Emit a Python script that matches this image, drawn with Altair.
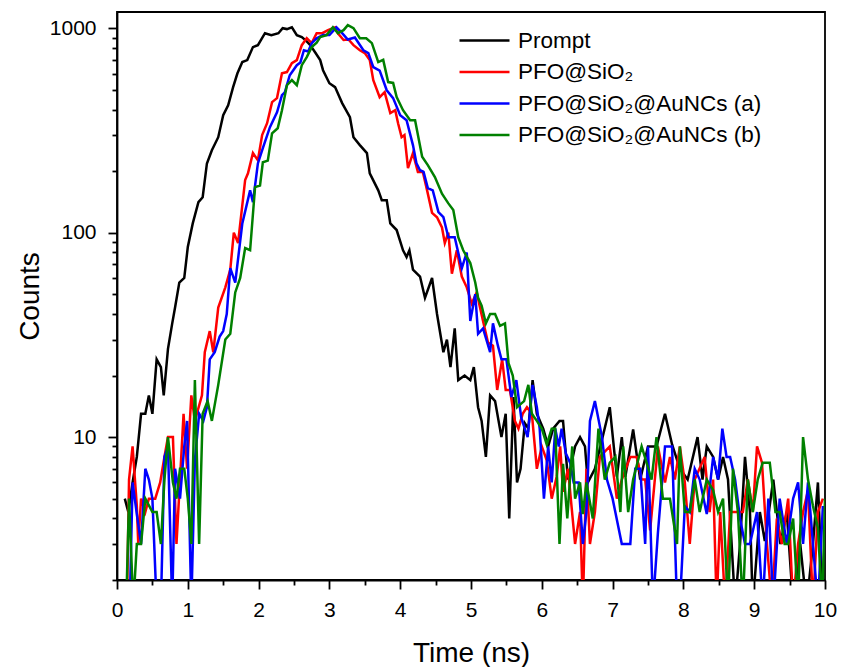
import altair as alt
import pandas as pd

# (time in ns, counts)
PROMPT = [(0.11,5),(0.16,4.3),(0.22,6),(0.28,8),(0.34,13),(0.40,13),(0.45,16),(0.50,13),(0.56,24),(0.62,22),
          (0.66,16),(0.72,27),(0.78,36),(0.82,43),(0.88,57),(0.95,60),(1.00,85),(1.07,111),(1.15,141),(1.21,149),
          (1.27,218),(1.34,253),(1.43,293),(1.50,375),(1.57,420),(1.64,515),(1.70,600),(1.77,683),(1.84,698),(1.92,808),
          (1.99,826),(2.09,945),(2.18,925),(2.28,945),(2.34,1000),(2.40,990),(2.47,1010),(2.54,925),(2.61,905),(2.67,870),
          (2.73,826),(2.80,760),(2.87,698),(2.91,623),(3.00,538),(3.08,515),(3.18,430),(3.29,367),(3.34,293),(3.43,268),
          (3.53,245),(3.57,195),(3.69,161),(3.74,144),(3.81,144),(3.86,111),(3.95,103),(4.04,82),(4.09,76),(4.13,82),
          (4.18,66),(4.28,61),(4.35,48),(4.45,60),(4.52,40),(4.61,26),(4.66,30),(4.71,22),(4.77,34),(4.82,19),
          (4.91,20),(4.99,19),(5.04,22),(5.10,14),(5.15,12),(5.21,8),(5.27,16),(5.34,15),(5.43,10),(5.49,13),
          (5.54,4),(5.60,15.7),(5.65,6),(5.70,7),(5.76,11.7),(5.81,11),(5.87,19),(5.93,13),(6.02,11),(6.09,9),
          (6.16,11),(6.25,12),(6.30,12),(6.37,6.2),(6.47,9),(6.54,10),(6.61,9),(6.65,6),(6.75,7),(6.85,9.7),
          (6.96,14),(7.06,6.4),(7.13,10),(7.18,6.4),(7.29,10.9),(7.39,6.2),(7.50,9),(7.62,9),(7.74,13),(7.84,9.2),
          (7.95,7),(8.06,6.2),(8.20,10),(8.27,6.2),(8.33,9),(8.42,8),(8.49,6.2),(8.56,8),(8.63,6.2),(8.73,1.5),
          (8.80,3),(8.87,8),(8.94,4.3),(8.98,1.5),(9.08,4.3),(9.15,3.1),(9.27,6.2),(9.37,3),(9.46,4.3),(9.55,1.5),
          (9.65,3),(9.74,1.5),(9.83,3),(9.90,6),(9.97,1.5)]

PFO_SIO2 = [(0.14,1.5),(0.17,6.2),(0.22,9),(0.28,4.6),(0.30,3),(0.34,5),(0.40,4.3),(0.45,5),(0.54,5),(0.61,6),
            (0.67,8),(0.72,10),(0.79,10),(0.84,3),(0.89,6.2),(0.94,13),(0.99,7),(1.05,16),(1.10,12),(1.20,16),
            (1.24,26),(1.31,33),(1.36,26),(1.43,43),(1.53,54),(1.60,66),(1.65,100),(1.71,89),(1.81,181),(1.85,195),
            (1.92,245),(1.99,226),(2.05,300),(2.12,343),(2.19,435),(2.26,455),(2.33,602),(2.40,610),(2.47,674),(2.54,698),
            (2.61,826),(2.68,893),(2.75,845),(2.82,945),(2.90,945),(2.98,978),(3.08,1010),(3.12,945),(3.20,875),(3.27,880),
            (3.34,826),(3.43,780),(3.50,755),(3.57,698),(3.62,557),(3.71,460),(3.78,487),(3.86,384),(3.93,397),(3.97,343),
            (4.02,293),(4.06,300),(4.11,207),(4.18,245),(4.25,198),(4.32,198),(4.38,161),(4.45,125),(4.52,119),(4.59,106),
            (4.63,89),(4.68,100),(4.73,63),(4.80,82),(4.87,61),(4.94,54),(5.01,45),(5.08,51),(5.17,37),(5.24,29),
            (5.31,28),(5.37,17),(5.44,24),(5.49,17),(5.55,17),(5.62,12),(5.67,11),(5.73,13),(5.79,14),(5.86,13),
            (5.93,7),(6.00,9),(6.07,7.7),(6.14,5),(6.21,6.4),(6.26,9),(6.30,5.4),(6.37,7),(6.47,3),(6.54,4.3),
            (6.58,1.5),(6.63,7),(6.68,3),(6.75,4.3),(6.82,8),(6.96,9),(7.06,5),(7.13,6.2),(7.25,8),(7.34,8),
            (7.41,6.2),(7.46,6.2),(7.53,3.5),(7.64,9),(7.74,6),(7.81,8),(7.88,6.2),(7.95,9),(8.02,6),(8.09,3),
            (8.16,6.2),(8.30,8),(8.37,4.3),(8.42,6.2),(8.47,1.5),(8.52,4.3),(8.59,1.5),(8.66,4.3),(8.75,4.3),(8.84,4.3),
            (8.91,6.2),(8.98,4.3),(9.04,9),(9.11,7.5),(9.18,3),(9.25,1.5),(9.32,4),(9.39,3),(9.48,5),(9.55,1.5),
            (9.62,3),(9.69,4.3),(9.76,5.5),(9.83,1.5),(9.90,4.3),(9.97,5)]

AUNCS_A = [(0.18,1.5),(0.22,6),(0.28,4.2),(0.34,3),(0.40,7),(0.45,6.2),(0.50,5),(0.56,1.5),(0.62,1.5),(0.67,8),
           (0.72,9),(0.78,1.5),(0.82,7),(0.89,5),(0.95,9),(0.99,12),(1.05,1.5),(1.10,7.7),(1.16,13),(1.22,12),
           (1.27,14),(1.31,24),(1.38,26),(1.45,31),(1.50,33),(1.55,40),(1.60,67),(1.67,57),(1.77,111),(1.88,161),
           (1.92,141),(1.99,218),(2.06,259),(2.16,328),(2.26,388),(2.33,470),(2.37,485),(2.44,589),(2.54,659),(2.59,680),
           (2.64,780),(2.70,770),(2.75,845),(2.82,893),(2.91,925),(3.00,925),(3.10,1010),(3.18,945),(3.26,880),(3.36,900),
           (3.48,780),(3.55,755),(3.62,645),(3.71,620),(3.81,497),(3.90,455),(4.00,375),(4.09,355),(4.18,268),(4.23,218),
           (4.28,202),(4.33,198),(4.39,165),(4.46,161),(4.54,126),(4.61,119),(4.68,95),(4.77,95),(4.87,67),(4.94,80),
           (4.99,37),(5.06,50),(5.10,32),(5.17,34),(5.27,26),(5.31,36),(5.38,28),(5.43,24),(5.50,24),(5.57,15.7),
           (5.64,19),(5.71,12.4),(5.80,10),(5.87,18),(5.93,14),(5.97,11),(6.03,5),(6.09,9),(6.14,6),(6.19,11),
           (6.24,9),(6.28,11),(6.34,8.3),(6.40,7.5),(6.45,6),(6.52,6),(6.58,3),(6.63,4.3),(6.68,12),(6.75,15),
           (6.85,10),(6.92,6.2),(7.00,5),(7.13,3),(7.25,3),(7.32,7),(7.39,7),(7.46,3),(7.50,9),(7.57,1.5),
           (7.64,3.4),(7.74,9),(7.84,9),(7.91,1.5),(7.95,1.5),(8.02,4.6),(8.09,4.3),(8.16,7),(8.23,6.2),(8.33,4.2),
           (8.42,8),(8.49,6.2),(8.55,11),(8.61,8),(8.66,8),(8.73,6.2),(8.80,4),(8.87,3),(8.94,3),(9.04,4.3),
           (9.12,1.5),(9.20,5),(9.27,1.5),(9.36,5),(9.46,3),(9.55,5),(9.62,6),(9.69,3),(9.76,6),(9.83,3),
           (9.90,1.5),(9.97,4.6)]

AUNCS_B = [(0.13,1.5),(0.17,5),(0.23,1.5),(0.28,3),(0.34,3),(0.40,5),(0.50,4.3),(0.56,4.3),(0.62,3),(0.67,6.2),
           (0.72,10),(0.79,6),(0.84,5),(0.89,7),(0.95,7),(1.00,5),(1.05,3),(1.10,19),(1.16,3),(1.21,13),
           (1.28,15),(1.34,12),(1.43,18),(1.53,30),(1.60,32),(1.67,51),(1.74,60),(1.81,84),(1.88,82),(1.95,167),
           (2.02,170),(2.06,221),(2.13,225),(2.19,306),(2.27,324),(2.33,397),(2.40,526),(2.47,557),(2.54,526),(2.61,659),
           (2.68,722),(2.75,808),(2.82,850),(2.87,905),(2.96,925),(3.05,1010),(3.12,945),(3.20,978),(3.26,1035),(3.34,1000),
           (3.43,893),(3.52,893),(3.60,845),(3.69,683),(3.76,700),(3.83,545),(3.90,540),(3.95,460),(4.04,397),(4.14,355),
           (4.21,355),(4.31,235),(4.39,214),(4.49,187),(4.59,155),(4.68,139),(4.75,129),(4.82,95),(4.89,82),(4.99,71),
           (5.06,57),(5.10,48),(5.15,44),(5.21,36),(5.27,40),(5.34,40),(5.41,35),(5.48,36),(5.53,23),(5.59,20),
           (5.65,14),(5.70,14.5),(5.75,15),(5.81,18),(5.86,13),(5.93,12),(6.00,11),(6.07,9.2),(6.14,11),(6.19,11),
           (6.25,3),(6.30,7.4),(6.36,4),(6.43,9),(6.47,5),(6.54,6),(6.58,4.2),(6.63,6),(6.72,4),(6.80,11),
           (6.89,6.2),(6.96,7.5),(7.04,8),(7.11,4.3),(7.15,9),(7.22,4.3),(7.29,6.2),(7.41,9),(7.48,7.5),(7.55,6.2),
           (7.62,10),(7.71,5),(7.81,5),(7.91,3),(7.95,9),(8.02,4.3),(8.09,4.3),(8.16,6.2),(8.23,4.3),(8.33,6.2),
           (8.42,5.5),(8.49,4.3),(8.56,5),(8.63,1.5),(8.70,7),(8.77,4.3),(8.84,1.5),(8.91,6.2),(8.98,4.3),(9.05,6.2),
           (9.12,7.5),(9.22,7.5),(9.30,4.3),(9.36,4.3),(9.43,3),(9.48,3),(9.55,4),(9.62,1.5),(9.69,10),(9.76,6.2),
           (9.83,4.6),(9.90,3.6),(9.96,1.5),(10.0,5)]

SERIES = ["Prompt", "PFO@SiO₂", "PFO@SiO₂@AuNCs (a)", "PFO@SiO₂@AuNCs (b)"]
COLORS = ["#000000", "#ff0000", "#0000ff", "#008000"]
X_TICKS = [i * 0.5 for i in range(21)]
Y_TICKS = [2, 3, 4, 5, 6, 7, 8, 9, 10, 20, 30, 40, 50, 60, 70, 80, 90,
           100, 200, 300, 400, 500, 600, 700, 800, 900, 1000]

rows = []
for name, pts in zip(SERIES, [PROMPT, PFO_SIO2, AUNCS_A, AUNCS_B]):
    for t, c in pts:
        rows.append({"series": name, "t": t, "counts": c})
df = pd.DataFrame(rows)

FONT = "Liberation Sans"

x_axis = alt.Axis(
    values=X_TICKS, title="Time (ns)", grid=False,
    labelExpr="datum.value % 1 == 0 ? format(datum.value, 'd') : ''",
    tickSize={"condition": {"test": "datum.value % 1 == 0", "value": 9}, "value": 5},
    labelFontSize=21, labelPadding=10, labelFlush=False, labelOverlap=False,
    titleFontSize=28, titleFontWeight="normal", titleX=354, titleY=81,
    titleBaseline="alphabetic", titleAlign="center",
)
y_axis = alt.Axis(
    values=Y_TICKS, title="Counts", grid=False,
    labelExpr="(datum.value == 10 || datum.value == 100 || datum.value == 1000) ? format(datum.value, 'd') : ''",
    tickSize={"condition": {"test": "datum.value == 10 || datum.value == 100 || datum.value == 1000", "value": 9}, "value": 5},
    labelFontSize=21, labelPadding=12, labelFlush=False, labelOverlap=False,
    titleFontSize=28, titleFontWeight="normal", titleX=-79, titleY=284,
    titleBaseline="alphabetic", titleAlign="center", titleAngle=270,
)

chart = alt.Chart(df).mark_line(strokeWidth=2.5, clip=True).encode(
    x=alt.X("t:Q", scale=alt.Scale(domain=[0, 10], nice=False, zero=False), axis=x_axis),
    y=alt.Y("counts:Q", scale=alt.Scale(type="log", domain=[2, 1200], nice=False), axis=y_axis),
    color=alt.Color(
        "series:N",
        scale=alt.Scale(domain=SERIES, range=COLORS),
        legend=alt.Legend(
            title=None, orient="none", legendX=356, legendY=17,
            symbolType="M-2.5,0H2.5", symbolSize=400, symbolStrokeWidth=2.5,
            labelFontSize=22.5, labelOffset=22, rowPadding=8.5, padding=0,
            labelLimit=500,
        ),
    ),
).properties(
    width=708, height=568,
    autosize=alt.AutoSizeParams(type="none"),
    padding={"left": 117, "top": 12, "right": 16, "bottom": 87},
).configure(
    font=FONT,
).configure_axis(
    domainColor="black", domainWidth=1.8, tickColor="black", tickWidth=1.8,
    labelColor="black", titleColor="black", labelFont=FONT, titleFont=FONT,
).configure_legend(
    labelFont=FONT, labelColor="black",
).configure_view(
    stroke="black", strokeWidth=1.8,
)

chart.save("out.html", embed_options={"renderer": "svg", "actions": False})
